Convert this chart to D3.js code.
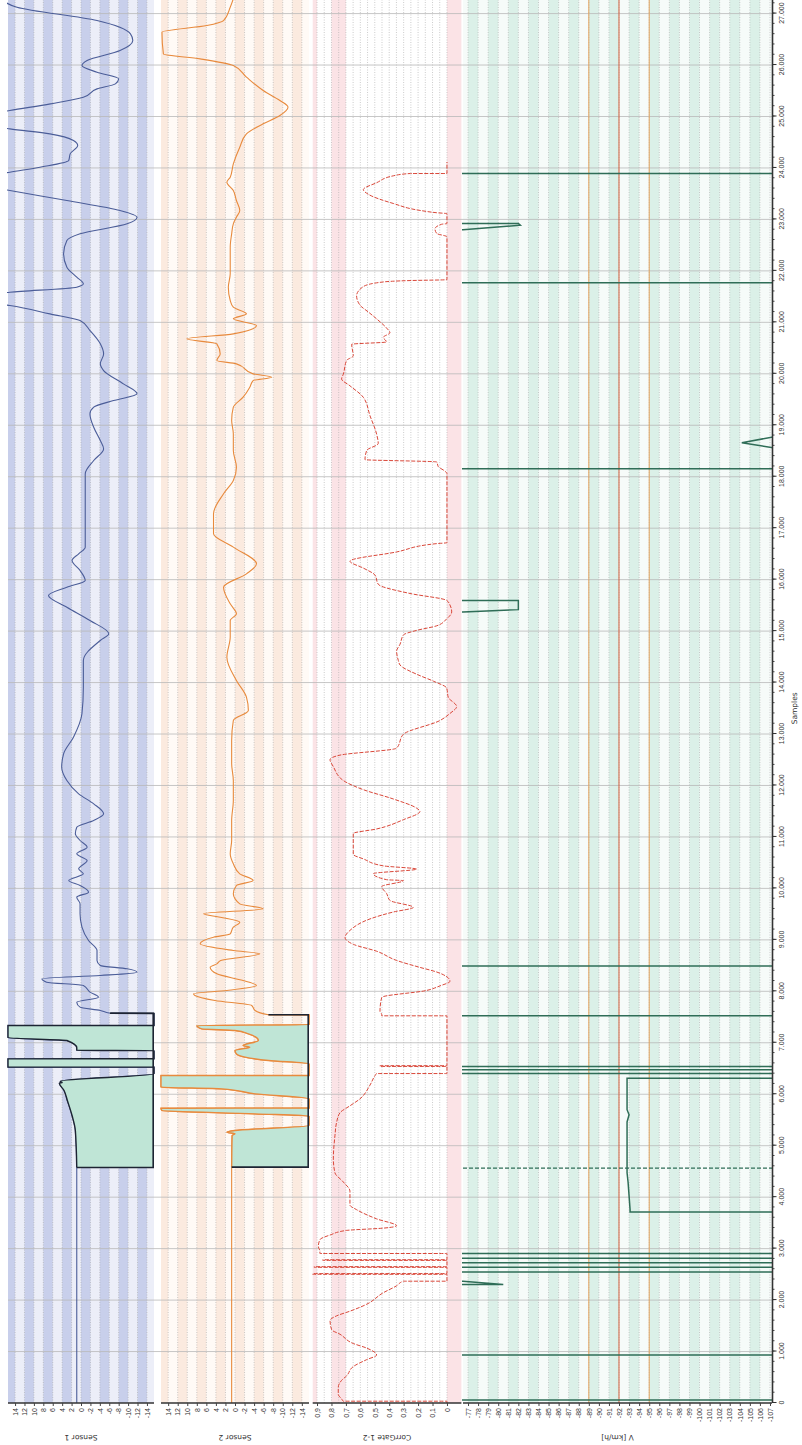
<!DOCTYPE html>
<html>
<head>
<meta charset="utf-8">
<script src="https://cdn.jsdelivr.net/npm/d3@7"></script>
<style>
body { margin: 0; background: #fff; }
svg { display: block; font-family: "DejaVu Sans", sans-serif; }
</style>
</head>
<body>
<div id="chart"></div>
<script>
// tick values
const sampleTicks = [0,1000,2000,3000,4000,5000,6000,7000,8000,9000,10000,11000,12000,13000,14000,15000,16000,17000,18000,19000,20000,21000,22000,23000,24000,25000,26000,27000];
const sensorTicks = [14,12,10,8,6,4,2,0,-2,-4,-6,-8,-10,-12,-14];
const corrTicks = [0.9,0.8,0.7,0.6,0.5,0.4,0.3,0.2,0.1,0];
const speedTicks = [-77,-78,-79,-80,-81,-82,-83,-84,-85,-86,-87,-88,-89,-90,-91,-92,-93,-94,-95,-96,-97,-98,-99,-100,-101,-102,-103,-104,-105,-106,-107];

// reference lines / markers
const speedRefs = [-89, -92, -95];
const speedMarks = [4564];
const zone1 = [4577, 7575];
const zone2 = [4583, 7544];

// [sample, value]
const sensor1 = [[0,0.9],[4577,0.9],[5296,1.2],[5587,1.9],[5879,2.9],[6073,3.6],[6215,4.6],[6230,4.0],[6254,4.4],[6397,-15.5],[6526,-15.5],[6527,15.5],[6688,15.5],[6689,-15.5],[6850,-15.5],[6851,0.9],[6902,0.9],[7044,3.0],[7096,15.5],[7336,15.5],[7337,-15.5],[7570,-15.5],[7575,-6.2],[7627,-4.1],[7692,0.2],[7789,0.9],[7886,-3.7],[7984,-1.9],[8113,-0.5],[8178,7.3],[8243,8.3],[8307,-4.1],[8372,-11.9],[8437,-9.8],[8502,-4.1],[8599,-3.4],[8793,-3.4],[8987,-1.6],[9247,-0.2],[9506,0.2],[9700,0.2],[9830,0.9],[9927,-1.6],[10056,0.2],[10154,2.6],[10283,-0.5],[10380,0.5],[10542,-1.3],[10672,0.9],[10801,-1.3],[10931,0.2],[11060,1.2],[11190,0.9],[11319,-2.7],[11449,-4.8],[11643,-2.7],[11838,0.5],[12097,3.0],[12356,4.1],[12615,3.7],[12939,1.6],[13393,-0.2],[13911,-0.5],[14429,-0.5],[14818,-4.1],[14947,-5.9],[15206,-1.9],[15465,3.0],[15692,6.9],[15854,3.0],[15984,-0.9],[16178,0.2],[16372,1.9],[16502,0.5],[16631,-0.9],[17927,-0.9],[18055,-0.9],[18315,-2.7],[18541,-4.8],[18703,-4.1],[18962,-2.7],[19221,-1.9],[19351,-2.7],[19480,-6.9],[19610,-11.9],[19804,-9.0],[20063,-4.8],[20193,-4.1],[20387,-4.8],[20582,-4.1],[20841,-1.9],[21035,0.2],[21165,6.6],[21327,15.1],[21450,25],[21586,15.1],[21683,0.9],[21748,-0.5],[21877,0.9],[22072,3.0],[22331,3.7],[22590,3.0],[22720,0.2],[22914,-9.8],[23043,-11.9],[23173,-8.3],[23367,3.0],[23562,15.1],[23740,25],[23918,15.1],[24015,8.7],[24145,2.6],[24274,2.3],[24436,0.7],[24533,1.6],[24663,6.6],[24760,15.1],[24940,25],[25116,15.1],[25246,6.5],[25375,-0.5],[25537,-3.4],[25634,-7.3],[25732,-8.0],[25861,-3.4],[25991,-0.2],[26088,-1.3],[26282,-8.3],[26477,-11.0],[26606,-10.5],[26865,-3.4],[27124,13.6],[27300,17]];

const sensor2 = [[0,0.7],[4583,0.7],[5198,0.6],[5230,0.0],[5263,1.7],[5295,0.0],[5393,-15.5],[5574,-15.5],[5619,-4.2],[5684,15.3],[5729,15.5],[5730,-15.5],[5911,-15.5],[6008,-4.2],[6105,2.8],[6138,15.5],[6364,15.5],[6365,-15.5],[6591,-15.5],[6656,-7.0],[6721,-2.1],[6785,-0.3],[6850,0.0],[6915,-3.1],[6947,-1.7],[7044,-4.9],[7174,-2.8],[7239,0.0],[7271,7.0],[7336,8.0],[7350,-15.5],[7543,-15.5],[7544,-7.0],[7627,-4.2],[7725,-3.5],[7822,4.2],[7919,8.4],[7951,8.7],[8016,1.7],[8113,-4.5],[8210,-1.7],[8340,3.8],[8469,5.2],[8534,3.8],[8599,3.0],[8729,-5.2],[8793,0.35],[8923,7.3],[9052,4.5],[9117,1.0],[9247,0.35],[9344,-1.0],[9441,3.1],[9506,6.6],[9603,-5.9],[9700,-1.0],[9894,0.35],[10056,-0.3],[10154,-3.8],[10283,-1.0],[10477,0.35],[10672,1.0],[10931,0.7],[11319,0.7],[11708,0.35],[12097,0.35],[12421,0.7],[12874,0.7],[13263,0.35],[13457,-2.8],[13716,-2.4],[14040,-0.3],[14494,1.7],[14883,1.0],[15206,1.0],[15336,-0.3],[15530,1.0],[15854,2.4],[16113,-2.4],[16307,-4.5],[16631,0.35],[16890,4.5],[17279,4.5],[17668,2.4],[17927,0.35],[18185,-0.3],[18509,0.35],[18833,0.35],[19092,0.7],[19351,0.35],[19545,-1.7],[19740,-3.1],[19869,-3.8],[19934,-7.7],[19999,-3.8],[20193,-0.3],[20258,3.8],[20387,3.1],[20582,3.8],[20679,10.1],[20776,0.35],[20938,-4.5],[21068,0.35],[21165,-2.4],[21294,0.35],[21424,1.0],[21683,1.4],[21942,1.0],[22201,1.0],[22460,1.0],[22719,0.7],[22914,0.35],[23043,-0.3],[23173,-1.0],[23367,-0.3],[23562,0.35],[23724,1.7],[23821,1.0],[24080,0.35],[24404,-1.0],[24663,-2.4],[24857,-5.9],[25019,-9.4],[25181,-11.1],[25311,-9.4],[25505,-5.9],[25764,-2.4],[25991,0.35],[26120,7.3],[26218,15.0],[26639,15.3],[26768,5.9],[26865,2.4],[27124,1.0],[27300,0.3]];

const corrGate = [[0,0],[35,0],[35,0.718],[80,0.730],[170,0.753],[304,0.753],[439,0.730],[528,0.695],[708,0.649],[843,0.556],[932,0.487],[1067,0.556],[1156,0.649],[1336,0.741],[1425,0.799],[1605,0.810],[1694,0.764],[1784,0.672],[1919,0.556],[2143,0.441],[2277,0.349],[2367,0.302],[2367,0],[2501,0],[2501,0.93],[2515,0.93],[2515,0],[2636,0],[2636,0.92],[2650,0.92],[2650,0],[2771,0],[2771,0.86],[2785,0.86],[2785,0],[2905,0],[2905,0.88],[2950,0.880],[3040,0.891],[3174,0.880],[3264,0.810],[3354,0.695],[3398,0.441],[3443,0.349],[3578,0.487],[3757,0.626],[3847,0.672],[4116,0.672],[4295,0.718],[4474,0.776],[4743,0.787],[5192,0.776],[5461,0.764],[5640,0.741],[5775,0.672],[5909,0.603],[6178,0.533],[6358,0.499],[6402,0.487],[6402,0],[6540,0],[6540,0.464],[6555,0.464],[6555,0],[7524,0],[7524,0.452],[7550,0.452],[7613,0.464],[7882,0.452],[8017,0.141],[8106,0.048],[8196,-0.021],[8375,0.071],[8465,0.187],[8600,0.349],[8779,0.487],[8914,0.649],[9048,0.706],[9183,0.672],[9407,0.533],[9541,0.372],[9631,0.233],[9766,0.395],[9900,0.418],[10035,0.452],[10151,0.302],[10169,0.418],[10286,0.510],[10375,0.210],[10438,0.441],[10573,0.579],[10662,0.649],[11066,0.649],[11155,0.487],[11335,0.302],[11496,0.187],[11559,0.210],[11738,0.372],[11918,0.579],[12097,0.718],[12366,0.787],[12501,0.810],[12590,0.741],[12725,0.349],[12994,0.302],[13263,0.048],[13400,-0.021],[13535,-0.067],[13714,-0.009],[13893,0.002],[14027,0.094],[14162,0.210],[14341,0.325],[14431,0.337],[14610,0.349],[14744,0.325],[14924,0.302],[15014,0.210],[15103,0.071],[15238,0.002],[15372,-0.033],[15507,-0.021],[15597,0.002],[15731,0.256],[15911,0.476],[16090,0.499],[16224,0.579],[16359,0.672],[16538,0.349],[16700,0.071],[16718,0],[18063,0],[18108,0.014],[18197,0.060],[18287,0.071],[18332,0.568],[18511,0.556],[18646,0.476],[18825,0.487],[19184,0.533],[19542,0.579],[19767,0.672],[19901,0.730],[19991,0.718],[20260,0.695],[20350,0.649],[20574,0.660],[20619,0.418],[20708,0.441],[20798,0.395],[20888,0.418],[21067,0.487],[21202,0.545],[21336,0.603],[21516,0.626],[21695,0.579],[21785,0.441],[21812,0.256],[21829,0],[22663,0],[22727,0.071],[22816,0.083],[22906,0.037],[22920,0],[23112,0],[23130,0.071],[23175,0.187],[23310,0.372],[23489,0.545],[23578,0.579],[23713,0.487],[23847,0.372],[23892,0.256],[23892,0],[24116,0]];

// -60 = above scale, -125 = below scale
const speed = [[0,-60],[58,-60],[58,-125],[932,-125],[932,-60],[2304,-60],[2304,-80.5],[2367,-76.5],[2380,-60],[2546,-60],[2546,-125],[2636,-125],[2636,-60],[2726,-60],[2726,-125],[2815,-125],[2815,-60],[2905,-60],[2905,-125],[3712,-125],[3712,-93.1],[3757,-93.1],[4295,-92.9],[4474,-92.8],[5461,-92.8],[5600,-93.0],[5700,-92.8],[6313,-92.8],[6313,-125],[6402,-125],[6402,-60],[6474,-60],[6474,-125],[6537,-125],[6537,-60],[7524,-60],[7524,-125],[8492,-125],[8492,-60],[15360,-60],[15372,-76.5],[15417,-82.0],[15597,-82.0],[15597,-60],[18153,-60],[18153,-125],[18556,-125],[18556,-107.5],[18660,-104.2],[18780,-107.5],[18780,-125],[21767,-125],[21767,-60],[22798,-60],[22798,-76.5],[22888,-82.2],[22923,-82.0],[22923,-60],[23892,-60],[23892,-125],[27300,-125]];

const W = 1445, H = 802;
const de = d3.formatLocale({decimal: ',', thousands: '.', grouping: [3], currency: ['', ''], minus: '-'});
const fmtSamples = de.format(',d');
const fmtInt = de.format('d');
const fmtCorr = d => d === 0 ? '0' : de.format('.1f')(d);

const svg = d3.select('#chart').append('svg')
    .attr('width', H)
    .attr('height', W);

svg.append('rect').attr('width', H).attr('height', W).attr('fill', '#fff');

// whole chart is drawn lying on its side
const g = svg.append('g').attr('transform', `translate(0,${W}) rotate(-90)`);

const x = d3.scaleLinear().domain([0, 27300]).range([42, 42 + 27300 * 0.05146]);
const axisY = 772;

const panels = [
    { id: 's1', title: 'Sensor 1', domain: [15.5, -15.5], range: [8, 154], ticks: sensorTicks, fmt: fmtInt,
      bg: '#eceef8', bandColor: '#c8cfeb', bands: [[15.5,14],[12,10],[8,6],[4,2],[0,-2],[-4,-6],[-8,-10],[-12,-14]],
      grid: d3.range(-14, 16, 2) },
    { id: 's2', title: 'Sensor 2', domain: [15.5, -15.5], range: [161, 309], ticks: sensorTicks, fmt: fmtInt,
      bg: '#fffaf6', bandColor: '#fbeadf', bands: [[15.5,14],[12,10],[8,6],[4,2],[0,-2],[-4,-6],[-8,-10],[-12,-14]],
      grid: d3.range(-14, 16, 2) },
    { id: 'cg', title: 'CorrGate 1-2', domain: [0.93, -0.1], range: [312.7, 461.4], ticks: corrTicks, fmt: fmtCorr,
      bg: '#ffffff', bandColor: '#fbe3e6', bands: [[0.93,0.9],[0.8,0.7],[0,-0.1]],
      grid: d3.range(0, 0.91, 0.05) },
    { id: 'v', title: 'V [km/h]', domain: [-76.5, -107.2], range: [463, 772], ticks: speedTicks, fmt: fmtInt,
      bg: '#f6fbf9', bandColor: '#dbf0e8', bands: d3.range(-77, -107, -2).map(v => [v, v - 1]),
      grid: d3.range(-107, -76, 1) }
];

const defs = svg.append('defs');

panels.forEach(p => {
    p.y = d3.scaleLinear().domain(p.domain).range(p.range);
    const pg = g.append('g').attr('id', p.id);
    pg.append('rect')
        .attr('x', x(0)).attr('width', W - x(0))
        .attr('y', p.range[0]).attr('height', p.range[1] - p.range[0])
        .attr('fill', p.bg);
    pg.selectAll('.band').data(p.bands).join('rect')
        .attr('class', 'band')
        .attr('x', x(0)).attr('width', W - x(0))
        .attr('y', d => p.y(d[0])).attr('height', d => p.y(d[1]) - p.y(d[0]))
        .attr('fill', p.bandColor);
    pg.selectAll('.grid').data(p.grid).join('line')
        .attr('class', 'grid')
        .attr('x1', x(0)).attr('x2', W)
        .attr('y1', d => p.y(d)).attr('y2', d => p.y(d))
        .attr('stroke', '#a9a9a9').attr('stroke-width', 0.6)
        .attr('stroke-dasharray', '1,1.5');
    defs.append('clipPath').attr('id', 'clip-' + p.id)
        .append('rect')
        .attr('x', x(0)).attr('width', W)
        .attr('y', p.range[0] - 1).attr('height', p.range[1] - p.range[0] + 2);
});

// sample grid
g.append('g').selectAll('line').data(sampleTicks.slice(1)).join('line')
    .attr('x1', d => x(d)).attr('x2', d => x(d))
    .attr('y1', 8).attr('y2', axisY)
    .attr('stroke', '#b9b9b9').attr('stroke-width', 0.8);

const [p1, p2, pc, pv] = panels;

function line(p, curve) {
    return d3.line().x(d => x(d[0])).y(d => p.y(d[1])).curve(curve || d3.curveLinear);
}
function clampTo(p, v) {
    const lo = Math.min(...p.domain), hi = Math.max(...p.domain);
    return Math.max(lo, Math.min(hi, v));
}

function drawZone(p, data, zone, color, edgeColor, zoneLineColor) {
    const pts = data.filter(d => d[0] >= zone[0] && d[0] <= zone[1]);
    const yb = p.range[1];
    const lay = g.append('g').attr('clip-path', `url(#clip-${p.id})`);
    lay.append('path')
        .attr('d', d3.area().x(d => x(d[0])).y0(yb).y1(d => p.y(clampTo(p, d[1]))).curve(d3.curveMonotoneX)(pts))
        .attr('fill', color);
    lay.append('path')
        .attr('d', line(p, d3.curveMonotoneX)(pts))
        .attr('fill', 'none').attr('stroke', zoneLineColor).attr('stroke-width', 1.4);
    const a = pts[0], b = pts[pts.length - 1];
    lay.append('path')
        .attr('d', `M${x(a[0])},${p.y(a[1])}V${yb - 0.8}H${x(b[0])}V${p.y(b[1])}`)
        .attr('fill', 'none').attr('stroke', edgeColor).attr('stroke-width', 1.6);
}

// sensor 1
g.append('path').datum(sensor1)
    .attr('clip-path', 'url(#clip-s1)')
    .attr('d', line(p1, d3.curveMonotoneX))
    .attr('fill', 'none').attr('stroke', '#4b5d98').attr('stroke-width', 1.1);
drawZone(p1, sensor1, zone1, '#bfe5d6', '#1d2433', '#1d2433');

// sensor 2
g.append('path').datum(sensor2)
    .attr('clip-path', 'url(#clip-s2)')
    .attr('d', line(p2, d3.curveMonotoneX))
    .attr('fill', 'none').attr('stroke', '#e88a3d').attr('stroke-width', 1.1);
drawZone(p2, sensor2, zone2, '#bfe5d6', '#1d2433', '#e88a3d');

// corr gate
g.append('path').datum(corrGate)
    .attr('clip-path', 'url(#clip-cg)')
    .attr('d', line(pc, d3.curveMonotoneX))
    .attr('fill', 'none').attr('stroke', '#d9483a').attr('stroke-width', 1)
    .attr('stroke-dasharray', '4,1.5');

// speed reference lines
g.append('g').selectAll('line').data(speedRefs).join('line')
    .attr('x1', x(0)).attr('x2', W)
    .attr('y1', d => pv.y(d)).attr('y2', d => pv.y(d))
    .attr('stroke', (d, i) => i === 1 ? '#d2603e' : '#e5a25c')
    .attr('stroke-width', 1);

g.append('g').selectAll('line').data(speedMarks).join('line')
    .attr('x1', d => x(d)).attr('x2', d => x(d))
    .attr('y1', pv.range[0]).attr('y2', pv.range[1])
    .attr('stroke', '#2f6d57').attr('stroke-width', 1.3)
    .attr('stroke-dasharray', '4,2');

g.append('path').datum(speed)
    .attr('clip-path', 'url(#clip-v)')
    .attr('d', line(pv))
    .attr('fill', 'none').attr('stroke', '#2f6d57').attr('stroke-width', 1.5);

// value axes
panels.forEach(p => {
    const ax = g.append('g')
        .attr('transform', `translate(${x(0)},0)`)
        .call(d3.axisLeft(p.y).tickValues(p.ticks).tickFormat(p.fmt).tickSize(3).tickSizeOuter(0));
    ax.select('.domain').attr('stroke', '#333').attr('stroke-width', 1.6)
        .attr('d', `M0,${p.range[0]}V${p.range[1]}`);
    ax.selectAll('.tick line').attr('stroke', '#444');
    ax.selectAll('.tick text').attr('font-size', 7).attr('fill', '#333').attr('x', -5);
    const cy = (p.range[0] + p.range[1]) / 2;
    g.append('text')
        .attr('transform', `translate(10,${cy}) rotate(-90)`)
        .attr('text-anchor', 'middle')
        .attr('font-size', 7.5).attr('fill', '#333')
        .text(p.title);
});

// samples axis
const minor = g.append('g').attr('transform', `translate(0,${axisY})`)
    .call(d3.axisBottom(x).tickValues(d3.range(0, 27300, 200)).tickFormat('').tickSize(2.5).tickSizeOuter(0));
minor.select('.domain').remove();
minor.selectAll('.tick line').attr('stroke', '#444');

const sx = g.append('g').attr('transform', `translate(0,${axisY})`)
    .call(d3.axisBottom(x).tickValues(sampleTicks).tickFormat(fmtSamples).tickSize(4.5).tickSizeOuter(0));
sx.select('.domain').attr('stroke', '#333').attr('stroke-width', 1.6);
sx.selectAll('.tick line').attr('stroke', '#333');
sx.selectAll('.tick text').attr('font-size', 7).attr('fill', '#333');

g.append('text')
    .attr('x', x(13500)).attr('y', 797)
    .attr('text-anchor', 'middle')
    .attr('font-size', 7.5).attr('fill', '#333')
    .text('Samples');
</script>
</body>
</html>
